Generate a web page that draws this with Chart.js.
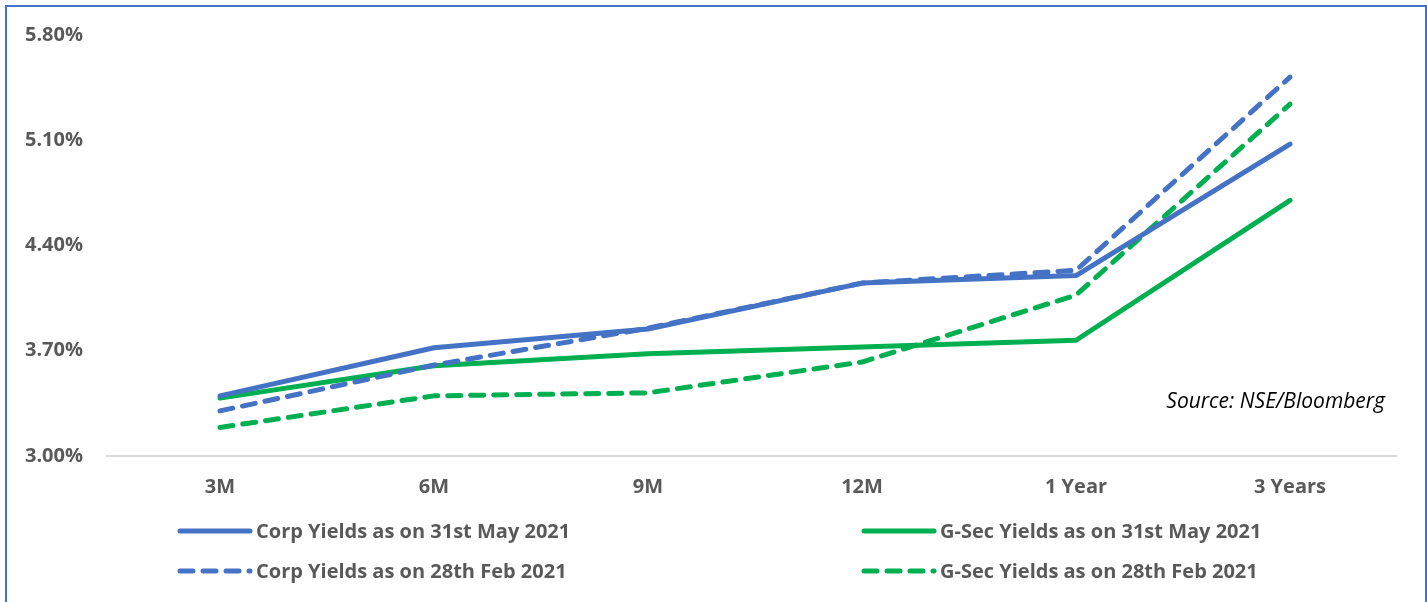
<!DOCTYPE html>
<html>
<head>
<meta charset="utf-8">
<script src="https://cdn.jsdelivr.net/npm/chart.js@4"></script>
<style>
  body { margin: 0; background: #fff; }
  #wrap { position: relative; width: 1427px; height: 602px; }
</style>
</head>
<body>
<div id="wrap"><canvas id="chart"></canvas></div>
<script>
const tenors = ["3M", "6M", "9M", "12M", "1 Year", "3 Years"]
const corpMay = [3.40, 3.72, 3.845, 4.15, 4.20, 5.075]
const corpFeb = [3.30, 3.605, 3.85, 4.15, 4.235, 5.52]
const gsecMay = [3.385, 3.60, 3.68, 3.725, 3.77, 4.70]
const gsecFeb = [3.19, 3.40, 3.42, 3.625, 4.07, 5.34]
const yTicks = [3.00, 3.70, 4.40, 5.10, 5.80]
const sourceNote = "Source: NSE/Bloomberg"

const BLUE = "#4472C4"
const GREEN = "#00B050"
const TEXT = "#595959"
const DASH = [13, 10]

// legend slot per dataset: [column, row]
const legendSlots = [[0, 0], [0, 1], [1, 0], [1, 1]]

const extras = {
    id: "extras",
    afterDraw(chart) {
        const ctx = chart.ctx
        const area = chart.chartArea
        ctx.save()

        // source note
        ctx.font = "italic 21px 'Open Sans'"
        ctx.fillStyle = "#000"
        ctx.textAlign = "right"
        ctx.textBaseline = "middle"
        ctx.fillText(sourceNote, area.right - 12, chart.scales.y.getPixelForValue(3.36))

        // legend
        const colX = [178, 862]
        const rowY = [531, 571]
        chart.data.datasets.forEach((ds, i) => {
            const [c, r] = legendSlots[i]
            const x = colX[c], y = rowY[r]
            ctx.beginPath()
            ctx.lineWidth = 5
            ctx.lineCap = "round"
            ctx.strokeStyle = ds.borderColor
            ctx.setLineDash(ds.borderDash || [])
            ctx.moveTo(x + 2, y)
            ctx.lineTo(x + 72, y)
            ctx.stroke()
            ctx.setLineDash([])
            ctx.font = "bold 20px 'Open Sans'"
            ctx.fillStyle = TEXT
            ctx.textAlign = "left"
            ctx.fillText(ds.label, x + 78, y + 1)
        })

        // frame
        ctx.strokeStyle = BLUE
        ctx.lineWidth = 2
        ctx.strokeRect(6, 6, 1420, 620)
        ctx.restore()
    }
}

const line = (label, data, color, dashed) => ({
    label,
    data,
    borderColor: color,
    backgroundColor: color,
    borderWidth: 5,
    borderDash: dashed ? DASH : [],
    borderCapStyle: "round",
    borderJoinStyle: "round",
    pointRadius: 0,
    tension: 0,
    fill: false
})

new Chart(document.getElementById("chart"), {
    type: "line",
    data: {
        labels: tenors,
        datasets: [
            line("Corp Yields as on 31st May 2021", corpMay, BLUE, false),
            line("Corp Yields as on 28th Feb 2021", corpFeb, BLUE, true),
            line("G-Sec Yields as on 31st May 2021", gsecMay, GREEN, false),
            line("G-Sec Yields as on 28th Feb 2021", gsecFeb, GREEN, true)
        ]
    },
    options: {
        responsive: true,
        maintainAspectRatio: false,
        animation: false,
        layout: { padding: { top: 35, right: 30, bottom: 0, left: 0 } },
        plugins: {
            legend: { display: false },
            tooltip: { enabled: false }
        },
        scales: {
            x: {
                offset: true,
                grid: { display: false, drawTicks: false },
                border: { display: false },
                ticks: {
                    color: TEXT,
                    font: { family: "Open Sans", size: 20, weight: "bold" },
                    padding: 19,
                    maxRotation: 0
                },
                afterFit(scale) { scale.height = 146 }
            },
            y: {
                min: yTicks[0],
                max: yTicks[yTicks.length - 1],
                afterBuildTicks(scale) { scale.ticks = yTicks.map(v => ({ value: v })) },
                grid: {
                    color: c => (c.tick && c.tick.value === yTicks[0]) ? "#d9d9d9" : "transparent",
                    lineWidth: 2,
                    drawTicks: true,
                    tickLength: 7
                },
                border: { display: false },
                ticks: {
                    color: TEXT,
                    font: { family: "Open Sans", size: 20, weight: "bold" },
                    padding: 23,
                    callback: v => v.toFixed(2) + "%"
                },
                afterFit(scale) { scale.width = 113 }
            }
        }
    },
    plugins: [extras]
})
</script>
</body>
</html>
